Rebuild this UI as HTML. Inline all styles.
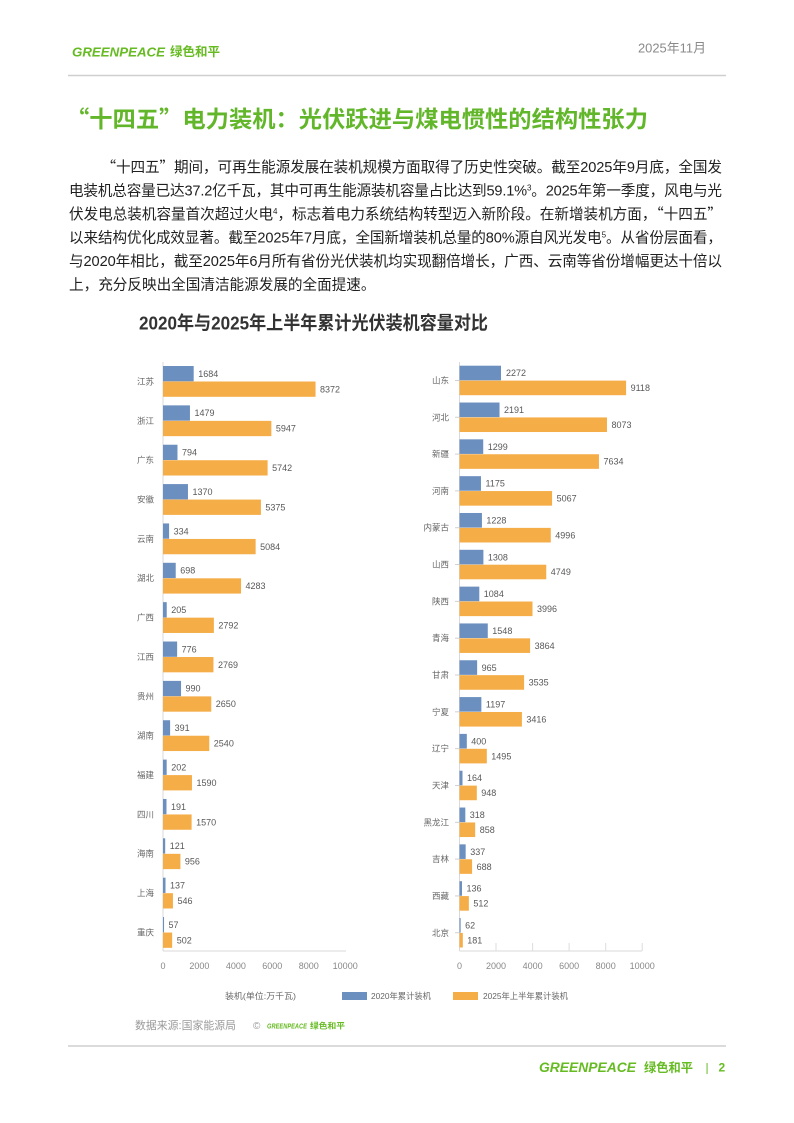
<!DOCTYPE html>
<html lang="zh">
<head>
<meta charset="utf-8">
<style>
  html,body{margin:0;padding:0;background:#fff;}
  body{width:794px;height:1123px;overflow:hidden;position:relative;}
  svg{position:absolute;left:0;top:0;}
  .cjk{font-family:"Noto Sans CJK SC","Liberation Sans",sans-serif;}
</style>
</head>
<body>
<svg width="794" height="1123" viewBox="0 0 794 1123" xmlns="http://www.w3.org/2000/svg" font-family="'Liberation Sans','Noto Sans CJK SC',sans-serif">
  <!-- Header -->
  <text x="72" y="56.5" font-size="13" font-weight="bold" font-style="italic" fill="#66bb22" textLength="93" lengthAdjust="spacingAndGlyphs">GREENPEACE</text>
  <text x="170" y="56" font-size="12.5" font-weight="bold" fill="#66bb22" textLength="50" lengthAdjust="spacingAndGlyphs">绿色和平</text>
  <text x="638" y="52.5" font-size="13" fill="#8a8a8a" textLength="68" lengthAdjust="spacingAndGlyphs">2025年11月</text>
  <line x1="68" y1="75.5" x2="726" y2="75.5" stroke="#cfcfcf" stroke-width="1.5"/>

  <!-- Title -->
  <text x="66" y="127" font-size="23" font-weight="bold" fill="#62b62a" textLength="582" lengthAdjust="spacingAndGlyphs"><tspan class="cjk">“</tspan>十四五<tspan class="cjk">”</tspan>电力装机：光伏跃进与煤电惯性的结构性张力</text>

  <!-- Paragraph -->
  <g font-size="14.6" fill="#1f1f1f">
    <text x="101.5" y="171.8" textLength="620.5" lengthAdjust="spacing"><tspan class="cjk">“</tspan>十四五<tspan class="cjk">”</tspan>期间，可再生能源发展在装机规模方面取得了历史性突破。截至2025年9月底，全国发</text>
    <text x="69" y="195.3" textLength="653" lengthAdjust="spacing">电装机总容量已达37.2亿千瓦，其中可再生能源装机容量占比达到59.1%<tspan font-size="8" dy="-5">3</tspan><tspan dy="5">。2025年第一季度，风电与光</tspan></text>
    <text x="69" y="218.8" textLength="653" lengthAdjust="spacing">伏发电总装机容量首次超过火电<tspan font-size="8" dy="-5">4</tspan><tspan dy="5">，标志着电力系统结构转型迈入新阶段。在新增装机方面，</tspan><tspan class="cjk">“</tspan>十四五<tspan class="cjk">”</tspan></text>
    <text x="69" y="242.3" textLength="653" lengthAdjust="spacing">以来结构优化成效显著。截至2025年7月底，全国新增装机总量的80%源自风光发电<tspan font-size="8" dy="-5">5</tspan><tspan dy="5">。从省份层面看，</tspan></text>
    <text x="69" y="265.8" textLength="653" lengthAdjust="spacing">与2020年相比，截至2025年6月所有省份光伏装机均实现翻倍增长，广西、云南等省份增幅更达十倍以</text>
    <text x="69" y="289.3">上，充分反映出全国清洁能源发展的全面提速。</text>
  </g>

  <!-- Chart title -->
  <text x="139" y="329.5" font-size="18.5" font-weight="bold" fill="#333" textLength="349" lengthAdjust="spacingAndGlyphs">2020年与2025年上半年累计光伏装机容量对比</text>

  <!-- LEFT CHART -->
  <g>
    <line x1="163" y1="362" x2="163" y2="951" stroke="#d9d9d9" stroke-width="1"/>
    <line x1="163" y1="951" x2="346" y2="951" stroke="#d9d9d9" stroke-width="1"/>
    <g fill="#6b8fbf">
      <rect x="163" y="366" width="30.68" height="15.3"/>
      <rect x="163" y="405.36" width="26.95" height="15.3"/>
      <rect x="163" y="444.72" width="14.47" height="15.3"/>
      <rect x="163" y="484.08" width="24.96" height="15.3"/>
      <rect x="163" y="523.44" width="6.09" height="15.3"/>
      <rect x="163" y="562.8" width="12.72" height="15.3"/>
      <rect x="163" y="602.16" width="3.74" height="15.3"/>
      <rect x="163" y="641.52" width="14.14" height="15.3"/>
      <rect x="163" y="680.88" width="18.04" height="15.3"/>
      <rect x="163" y="720.24" width="7.12" height="15.3"/>
      <rect x="163" y="759.6" width="3.68" height="15.3"/>
      <rect x="163" y="798.96" width="3.48" height="15.3"/>
      <rect x="163" y="838.32" width="2.2" height="15.3"/>
      <rect x="163" y="877.68" width="2.5" height="15.3"/>
      <rect x="163" y="917.04" width="1.04" height="15.3"/>
    </g>
    <g fill="#f5ad47">
      <rect x="163" y="381.5" width="152.54" height="15.3"/>
      <rect x="163" y="420.86" width="108.35" height="15.3"/>
      <rect x="163" y="460.22" width="104.62" height="15.3"/>
      <rect x="163" y="499.58" width="97.93" height="15.3"/>
      <rect x="163" y="538.94" width="92.63" height="15.3"/>
      <rect x="163" y="578.3" width="78.04" height="15.3"/>
      <rect x="163" y="617.66" width="50.87" height="15.3"/>
      <rect x="163" y="657.02" width="50.45" height="15.3"/>
      <rect x="163" y="696.38" width="48.28" height="15.3"/>
      <rect x="163" y="735.74" width="46.28" height="15.3"/>
      <rect x="163" y="775.1" width="28.97" height="15.3"/>
      <rect x="163" y="814.46" width="28.61" height="15.3"/>
      <rect x="163" y="853.82" width="17.42" height="15.3"/>
      <rect x="163" y="893.18" width="9.95" height="15.3"/>
      <rect x="163" y="932.54" width="9.15" height="15.3"/>
    </g>
    <!-- value labels -->
    <g font-size="9" fill="#595959">
      <text x="198.2" y="376.9">1684</text>
      <text x="320" y="392.4">8372</text>
      <text x="194.5" y="416.2">1479</text>
      <text x="275.9" y="431.7">5947</text>
      <text x="182" y="455.6">794</text>
      <text x="272.1" y="471.1">5742</text>
      <text x="192.5" y="494.9">1370</text>
      <text x="265.4" y="510.4">5375</text>
      <text x="173.6" y="534.3">334</text>
      <text x="260.1" y="549.8">5084</text>
      <text x="180.2" y="573.7">698</text>
      <text x="245.5" y="589.2">4283</text>
      <text x="171.2" y="613">205</text>
      <text x="218.4" y="628.5">2792</text>
      <text x="181.6" y="652.4">776</text>
      <text x="218" y="667.9">2769</text>
      <text x="185.5" y="691.7">990</text>
      <text x="215.8" y="707.2">2650</text>
      <text x="174.6" y="731.1">391</text>
      <text x="213.8" y="746.6">2540</text>
      <text x="171.2" y="770.5">202</text>
      <text x="196.5" y="786">1590</text>
      <text x="171" y="809.8">191</text>
      <text x="196.1" y="825.3">1570</text>
      <text x="169.7" y="849.2">121</text>
      <text x="184.9" y="864.7">956</text>
      <text x="170" y="888.5">137</text>
      <text x="177.5" y="904">546</text>
      <text x="168.5" y="927.9">57</text>
      <text x="176.7" y="943.4">502</text>
    </g>
    <!-- category labels -->
    <g font-size="8.5" fill="#666" text-anchor="end">
      <text x="154" y="384.4">江苏</text>
      <text x="154" y="423.8">浙江</text>
      <text x="154" y="463.1">广东</text>
      <text x="154" y="502.5">安徽</text>
      <text x="154" y="541.8">云南</text>
      <text x="154" y="581.2">湖北</text>
      <text x="154" y="620.6">广西</text>
      <text x="154" y="659.9">江西</text>
      <text x="154" y="699.3">贵州</text>
      <text x="154" y="738.6">湖南</text>
      <text x="154" y="778">福建</text>
      <text x="154" y="817.4">四川</text>
      <text x="154" y="856.7">海南</text>
      <text x="154" y="896.1">上海</text>
      <text x="154" y="935.4">重庆</text>
    </g>
    <!-- ticks -->
    <g font-size="9" fill="#888" text-anchor="middle">
      <text x="163" y="969.2">0</text>
      <text x="199.4" y="969.2">2000</text>
      <text x="235.9" y="969.2">4000</text>
      <text x="272.3" y="969.2">6000</text>
      <text x="308.8" y="969.2">8000</text>
      <text x="345.2" y="969.2">10000</text>
    </g>
  </g>

  <!-- RIGHT CHART -->
  <g>
    <line x1="459.5" y1="362" x2="459.5" y2="951" stroke="#d9d9d9" stroke-width="1"/>
    <line x1="459.5" y1="951" x2="642" y2="951" stroke="#d9d9d9" stroke-width="1"/>
    <g stroke="#dcdcdc" stroke-width="1">
      <line x1="496" y1="943" x2="496" y2="951"/>
      <line x1="532.6" y1="943" x2="532.6" y2="951"/>
      <line x1="569.1" y1="943" x2="569.1" y2="951"/>
      <line x1="605.7" y1="943" x2="605.7" y2="951"/>
      <line x1="642.2" y1="943" x2="642.2" y2="951"/>
    </g>
    <g stroke="#d0d0d0" stroke-width="1">
      <line x1="455" y1="380.45" x2="459.5" y2="380.45"/>
      <line x1="455" y1="417.27" x2="459.5" y2="417.27"/>
      <line x1="455" y1="454.09" x2="459.5" y2="454.09"/>
      <line x1="455" y1="490.91" x2="459.5" y2="490.91"/>
      <line x1="455" y1="527.73" x2="459.5" y2="527.73"/>
      <line x1="455" y1="564.55" x2="459.5" y2="564.55"/>
      <line x1="455" y1="601.37" x2="459.5" y2="601.37"/>
      <line x1="455" y1="638.19" x2="459.5" y2="638.19"/>
      <line x1="455" y1="675.01" x2="459.5" y2="675.01"/>
      <line x1="455" y1="711.83" x2="459.5" y2="711.83"/>
      <line x1="455" y1="748.65" x2="459.5" y2="748.65"/>
      <line x1="455" y1="785.47" x2="459.5" y2="785.47"/>
      <line x1="455" y1="822.29" x2="459.5" y2="822.29"/>
      <line x1="455" y1="859.11" x2="459.5" y2="859.11"/>
      <line x1="455" y1="895.93" x2="459.5" y2="895.93"/>
      <line x1="455" y1="932.75" x2="459.5" y2="932.75"/>
    </g>
    <g fill="#6b8fbf">
      <rect x="459.5" y="365.7" width="41.51" height="14.6"/>
      <rect x="459.5" y="402.52" width="40.03" height="14.6"/>
      <rect x="459.5" y="439.34" width="23.73" height="14.6"/>
      <rect x="459.5" y="476.16" width="21.47" height="14.6"/>
      <rect x="459.5" y="512.98" width="22.44" height="14.6"/>
      <rect x="459.5" y="549.8" width="23.9" height="14.6"/>
      <rect x="459.5" y="586.62" width="19.8" height="14.6"/>
      <rect x="459.5" y="623.44" width="28.28" height="14.6"/>
      <rect x="459.5" y="660.26" width="17.63" height="14.6"/>
      <rect x="459.5" y="697.08" width="21.87" height="14.6"/>
      <rect x="459.5" y="733.9" width="7.31" height="14.6"/>
      <rect x="459.5" y="770.72" width="3" height="14.6"/>
      <rect x="459.5" y="807.54" width="5.81" height="14.6"/>
      <rect x="459.5" y="844.36" width="6.16" height="14.6"/>
      <rect x="459.5" y="881.18" width="2.48" height="14.6"/>
      <rect x="459.5" y="918" width="1.13" height="14.6"/>
    </g>
    <g fill="#f5ad47">
      <rect x="459.5" y="380.6" width="166.59" height="14.6"/>
      <rect x="459.5" y="417.42" width="147.49" height="14.6"/>
      <rect x="459.5" y="454.24" width="139.47" height="14.6"/>
      <rect x="459.5" y="491.06" width="92.57" height="14.6"/>
      <rect x="459.5" y="527.88" width="91.28" height="14.6"/>
      <rect x="459.5" y="564.7" width="86.76" height="14.6"/>
      <rect x="459.5" y="601.52" width="73.01" height="14.6"/>
      <rect x="459.5" y="638.34" width="70.6" height="14.6"/>
      <rect x="459.5" y="675.16" width="64.58" height="14.6"/>
      <rect x="459.5" y="711.98" width="62.41" height="14.6"/>
      <rect x="459.5" y="748.8" width="27.31" height="14.6"/>
      <rect x="459.5" y="785.62" width="17.32" height="14.6"/>
      <rect x="459.5" y="822.44" width="15.68" height="14.6"/>
      <rect x="459.5" y="859.26" width="12.57" height="14.6"/>
      <rect x="459.5" y="896.08" width="9.35" height="14.6"/>
      <rect x="459.5" y="932.9" width="3.31" height="14.6"/>
    </g>
    <g font-size="9" fill="#595959">
      <text x="506" y="376.2">2272</text>
      <text x="630.6" y="391.1">9118</text>
      <text x="504" y="413">2191</text>
      <text x="611.5" y="427.9">8073</text>
      <text x="487.7" y="449.8">1299</text>
      <text x="603.5" y="464.7">7634</text>
      <text x="485.5" y="486.7">1175</text>
      <text x="556.6" y="501.6">5067</text>
      <text x="486.4" y="523.5">1228</text>
      <text x="555.3" y="538.4">4996</text>
      <text x="487.9" y="560.3">1308</text>
      <text x="550.8" y="575.2">4749</text>
      <text x="483.8" y="597.1">1084</text>
      <text x="537" y="612">3996</text>
      <text x="492.3" y="633.9">1548</text>
      <text x="534.6" y="648.8">3864</text>
      <text x="481.6" y="670.8">965</text>
      <text x="528.6" y="685.7">3535</text>
      <text x="485.9" y="707.6">1197</text>
      <text x="526.4" y="722.5">3416</text>
      <text x="471.3" y="744.4">400</text>
      <text x="491.3" y="759.3">1495</text>
      <text x="467" y="781.2">164</text>
      <text x="481.3" y="796.1">948</text>
      <text x="469.8" y="818">318</text>
      <text x="479.7" y="832.9">858</text>
      <text x="470.2" y="854.9">337</text>
      <text x="476.6" y="869.8">688</text>
      <text x="466.5" y="891.7">136</text>
      <text x="473.4" y="906.6">512</text>
      <text x="465.1" y="928.5">62</text>
      <text x="467.3" y="943.4">181</text>
    </g>
    <g font-size="8.5" fill="#666" text-anchor="end">
      <text x="449" y="383.5">山东</text>
      <text x="449" y="420.3">河北</text>
      <text x="449" y="457.1">新疆</text>
      <text x="449" y="493.9">河南</text>
      <text x="449" y="530.7">内蒙古</text>
      <text x="449" y="567.6">山西</text>
      <text x="449" y="604.4">陕西</text>
      <text x="449" y="641.2">青海</text>
      <text x="449" y="678">甘肃</text>
      <text x="449" y="714.8">宁夏</text>
      <text x="449" y="751.7">辽宁</text>
      <text x="449" y="788.5">天津</text>
      <text x="449" y="825.3">黑龙江</text>
      <text x="449" y="862.1">吉林</text>
      <text x="449" y="898.9">西藏</text>
      <text x="449" y="935.8">北京</text>
    </g>
    <g font-size="9" fill="#888" text-anchor="middle">
      <text x="459.5" y="969.2">0</text>
      <text x="496" y="969.2">2000</text>
      <text x="532.6" y="969.2">4000</text>
      <text x="569.1" y="969.2">6000</text>
      <text x="605.7" y="969.2">8000</text>
      <text x="642.2" y="969.2">10000</text>
    </g>
  </g>

  <!-- Legend -->
  <text x="225" y="999" font-size="8.5" fill="#666" textLength="71" lengthAdjust="spacingAndGlyphs">装机(单位:万千瓦)</text>
  <rect x="342" y="992" width="25" height="8" fill="#6b8fbf"/>
  <text x="371" y="999" font-size="8.5" fill="#666" textLength="60" lengthAdjust="spacingAndGlyphs">2020年累计装机</text>
  <rect x="453" y="992" width="25" height="8" fill="#f5ad47"/>
  <text x="483" y="999" font-size="8.5" fill="#666" textLength="85" lengthAdjust="spacingAndGlyphs">2025年上半年累计装机</text>

  <!-- Data source -->
  <text x="135" y="1029" font-size="11" fill="#9a9a9a" textLength="101" lengthAdjust="spacingAndGlyphs">数据来源:国家能源局</text>
  <text x="253" y="1029" font-size="10" fill="#9a9a9a">©</text>
  <text x="267" y="1028.5" font-size="7" font-weight="bold" font-style="italic" fill="#66bb22" textLength="40" lengthAdjust="spacingAndGlyphs">GREENPEACE</text>
  <text x="310" y="1028.5" font-size="8" font-weight="bold" fill="#66bb22" textLength="35" lengthAdjust="spacingAndGlyphs">绿色和平</text>

  <!-- Footer -->
  <line x1="68" y1="1046" x2="726" y2="1046" stroke="#cfcfcf" stroke-width="1.5"/>
  <text x="539" y="1072" font-size="13.5" font-weight="bold" font-style="italic" fill="#66bb22" textLength="97" lengthAdjust="spacingAndGlyphs">GREENPEACE</text>
  <text x="644" y="1072" font-size="12.5" font-weight="bold" fill="#66bb22" textLength="49" lengthAdjust="spacingAndGlyphs">绿色和平</text>
  <text x="705.5" y="1071.5" font-size="12" fill="#66bb22">|</text>
  <text x="718.5" y="1071.5" font-size="12" font-weight="bold" fill="#66bb22">2</text>
</svg>
</body>
</html>
